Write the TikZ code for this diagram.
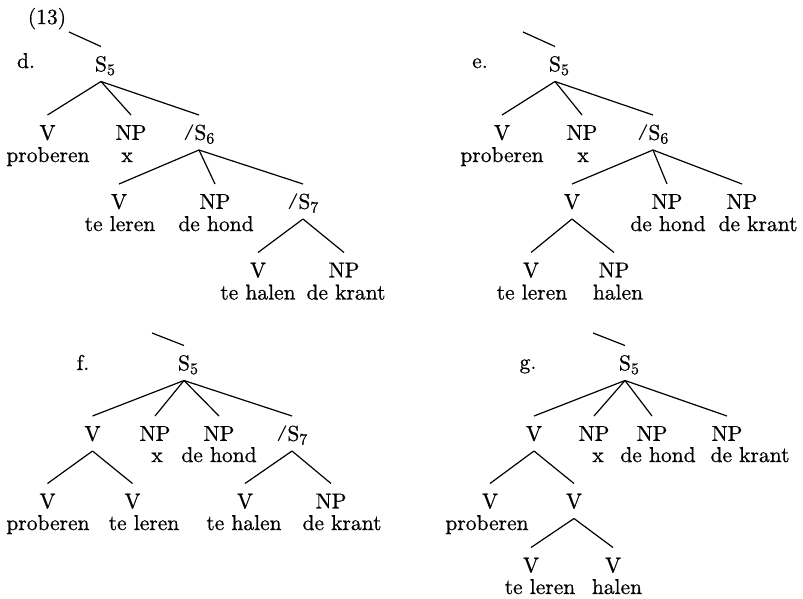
\documentclass[tikz,border=0pt]{standalone}
\usepackage{fontspec}
\setmainfont{lmroman10-regular}[Extension=.otf, FakeBold=0.7]
\newcommand{\subn}[1]{\rlap{\raisebox{-3.8pt}{\fontsize{16}{16}\selectfont #1}}}
\newcommand{\subw}[1]{\raisebox{-3.8pt}{\fontsize{16}{16}\selectfont #1}}
\newcommand{\slsh}{\raisebox{3.7pt}{\scalebox{1}[0.72]{/}}}
\begin{document}
\begin{tikzpicture}[x=1pt,y=-1pt,
  every node/.style={font=\fontsize{21.5}{25}\selectfont, inner sep=0pt},
  cat/.style={text height=14.6pt, text depth=0pt, outer xsep=0pt, outer ysep=10.2pt},
  word/.style={anchor=base},
  branch/.style={line width=1.2pt}]
\useasboundingbox (0,0) rectangle (803,598);

% ---------------- (13) d ----------------
\node[word] (num) at (47,24) {(13)};
\node[word] (dl) at (26,68) {d.};
\coordinate (dT) at (69,32);
\node[cat] (dS) at (101,64) {S\subn{5}};
\node[cat] (dV) at (47.5,132.5) {V};
\node[cat] (dNP) at (131,132.5) {NP};
\node[cat] (dS6) at (199,132.5) {\slsh S\subw{6}};
\node[word] (dw1) at (48,162) {proberen};
\node[word] (dw2) at (127,162) {x};
\node[cat] (dV2) at (119,201.5) {V};
\node[cat] (dNP2) at (215,201.5) {NP};
\node[cat] (dS7) at (303,201.5) {\slsh S\subw{7}};
\node[word] (dw3) at (120,231) {te leren};
\node[word] (dw4) at (216,231) {de hond};
\node[cat] (dV3) at (258,270) {V};
\node[cat] (dNP3) at (344,270) {NP};
\node[word] (dw5) at (258,299.5) {te halen};
\node[word] (dw6) at (346,299.5) {de krant};

% ---------------- e ----------------
\node[word] (el) at (480,68) {e.};
\coordinate (eT) at (523,32);
\node[cat] (eS) at (555,64) {S\subn{5}};
\node[cat] (eV) at (502,132.5) {V};
\node[cat] (eNP) at (582,132.5) {NP};
\node[cat] (eS6) at (653,132.5) {\slsh S\subw{6}};
\node[word] (ew1) at (502,162) {proberen};
\node[word] (ew2) at (583,162) {x};
\node[cat] (eV2) at (572,201.5) {V};
\node[cat] (eNP2) at (667,201.5) {NP};
\node[cat] (eNP3) at (742,201.5) {NP};
\node[word] (ew3) at (668,231) {de hond};
\node[word] (ew4) at (758,231) {de krant};
\node[cat] (eV3) at (531,270) {V};
\node[cat] (eNP4) at (614,270) {NP};
\node[word] (ew5) at (532,299.5) {te leren};
\node[word] (ew6) at (618,299.5) {halen};

% ---------------- f ----------------
\node[word] (fl) at (83,370) {f.};
\coordinate (fT) at (152,333);
\node[cat] (fS) at (184,363) {S\subn{5}};
\node[cat] (fV) at (92.5,433.5) {V};
\node[cat] (fNP) at (155,433.5) {NP};
\node[cat] (fNP2) at (219,433.5) {NP};
\node[cat] (fS7) at (292,433.5) {\slsh S\subw{7}};
\node[word] (fw1) at (157,462) {x};
\node[word] (fw2) at (219,462) {de hond};
\node[cat] (fV2) at (47.5,501) {V};
\node[cat] (fV3) at (132.5,501) {V};
\node[cat] (fV4) at (245,501) {V};
\node[cat] (fNP3) at (331,501) {NP};
\node[word] (fw3) at (48,530) {proberen};
\node[word] (fw4) at (144,530) {te leren};
\node[word] (fw5) at (244,530) {te halen};
\node[word] (fw6) at (342,530) {de krant};

% ---------------- g ----------------
\node[word] (gl) at (528,369) {g.};
\coordinate (gT) at (593,333);
\node[cat] (gS) at (625,363) {S\subn{5}};
\node[cat] (gV) at (534,433.5) {V};
\node[cat] (gNP) at (594,433.5) {NP};
\node[cat] (gNP2) at (652,433.5) {NP};
\node[cat] (gNP3) at (727,433.5) {NP};
\node[word] (gw1) at (598,462) {x};
\node[word] (gw2) at (658,462) {de hond};
\node[word] (gw3) at (750,462) {de krant};
\node[cat] (gV2) at (490,501) {V};
\node[cat] (gV3) at (574,501) {V};
\node[word] (gw4) at (487,530) {proberen};
\node[cat] (gV4) at (531,565) {V};
\node[cat] (gV5) at (613,565) {V};
\node[word] (gw5) at (540,594) {te leren};
\node[word] (gw6) at (617,594) {halen};

% ---------------- connectors ----------------
\foreach \a/\b in {dT/dS, eT/eS, fT/fS, gT/gS}
  \draw[branch] (\a) -- (\b.north);
\foreach \a/\b in {dS/dV, dS/dNP, dS/dS6, dS6/dV2, dS6/dNP2, dS6/dS7, dS7/dV3, dS7/dNP3,
  eS/eV, eS/eNP, eS/eS6, eS6/eV2, eS6/eNP2, eS6/eNP3, eV2/eV3, eV2/eNP4,
  fS/fV, fS/fNP, fS/fNP2, fS/fS7, fV/fV2, fV/fV3, fS7/fV4, fS7/fNP3,
  gS/gV, gS/gNP, gS/gNP2, gS/gNP3, gV/gV2, gV/gV3, gV3/gV4, gV3/gV5}
  \draw[branch] (\a.south) -- (\b.north);
\end{tikzpicture}
\end{document}
